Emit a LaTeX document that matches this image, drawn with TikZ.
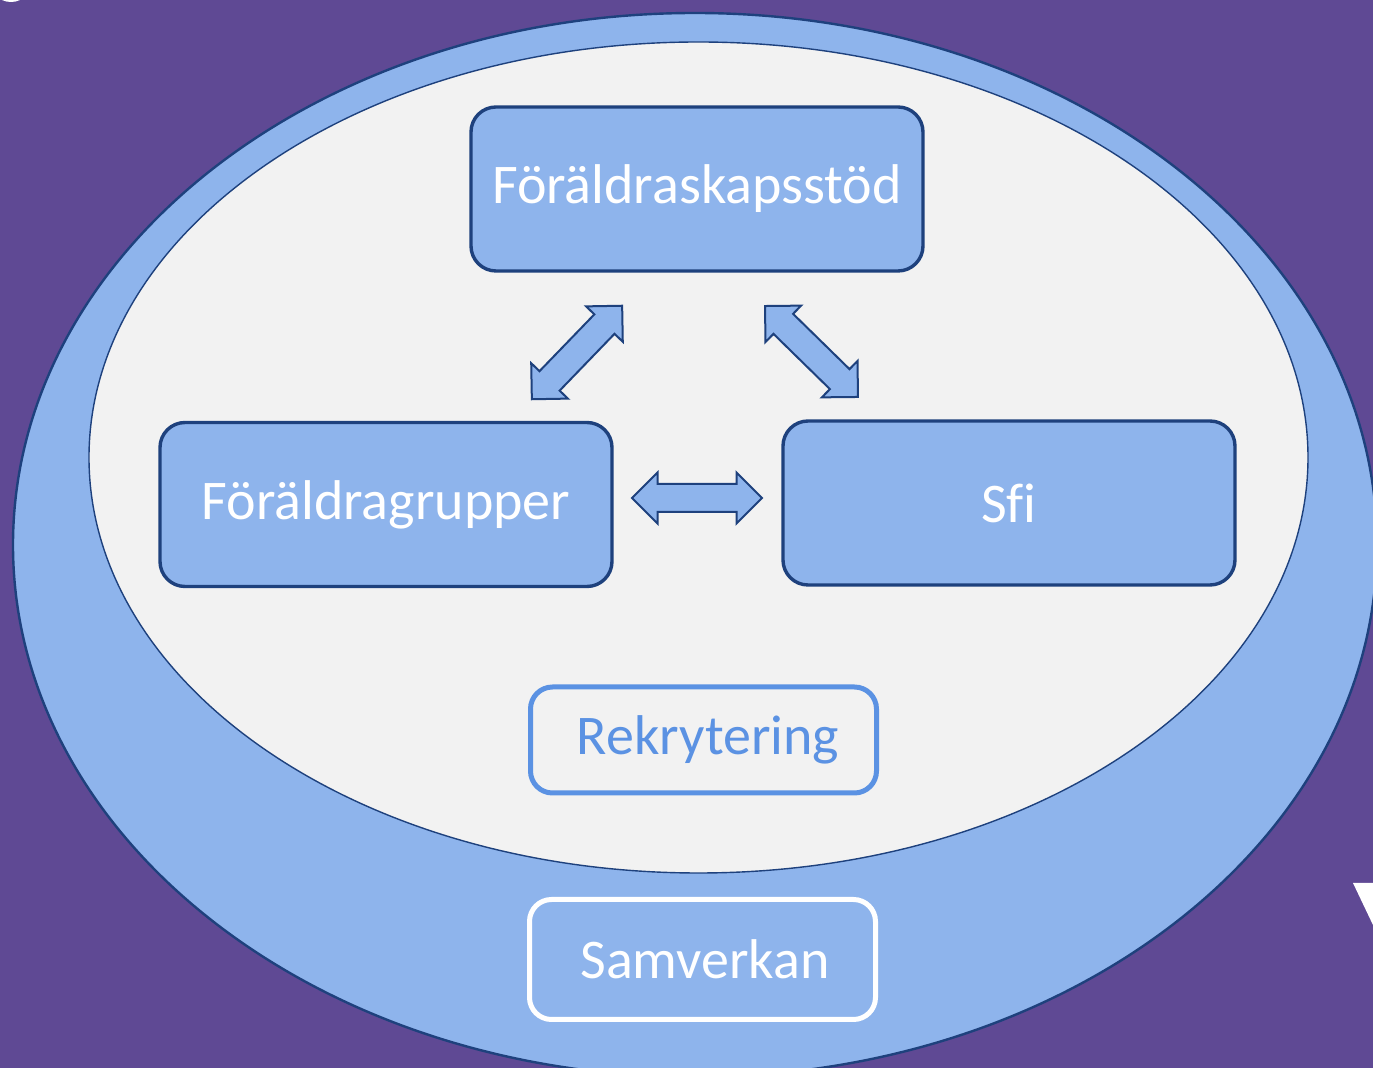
\documentclass[tikz,border=0pt]{standalone}
\usepackage{fontspec}
\setmainfont{Carlito}[Ligatures=NoCommon]
\usetikzlibrary{shapes.arrows}
\definecolor{bgpurple}{RGB}{95,73,148}
\definecolor{ringblue}{RGB}{142,180,236}
\definecolor{innergray}{RGB}{242,242,242}
\definecolor{edgeblue}{RGB}{30,65,125}
\definecolor{rekblue}{RGB}{91,146,227}
\tikzset{
  boxtext/.style={font=\fontsize{28}{34}\selectfont, text=white},
  mainbox/.style={boxtext, rectangle, rounded corners=12.5pt, draw=edgeblue,
    line width=1.7pt, fill=ringblue, minimum width=226pt, minimum height=82pt},
  dblpil/.style={double arrow, draw=edgeblue, line width=1pt, fill=ringblue,
    inner xsep=0pt, inner ysep=6.5pt, minimum width=24.5pt, minimum height=65pt,
    double arrow head extend=5.75pt}
}

\begin{document}
\begin{tikzpicture}[x=0.5pt,y=-0.5pt]
\useasboundingbox (0,0) rectangle (1373,1068);
\clip (0,0) rectangle (1373,1068);
\fill[bgpurple] (0,0) rectangle (1373,1068);
\fill[white] (11,-4) ellipse [x radius=12, y radius=6];
\fill[white] (1353,883)--(1373,883)--(1373,925)--cycle;
% ellipses
\filldraw[fill=ringblue, draw=edgeblue, line width=1.2pt] (695,545) ellipse [x radius=682, y radius=532];
\filldraw[fill=innergray, draw=edgeblue, line width=0.7pt] (698.5,457.5) ellipse [x radius=609.5, y radius=415.5];
% boxes
\node[mainbox] (stod) at (697,189) {Föräldraskapsstöd};
\node[mainbox] (grupper) at (386,504.5) {Föräldragrupper};
\node[mainbox] (sfi) at (1009,503) {Sfi};
\node[boxtext, text=rekblue, rectangle, rounded corners=11pt, draw=rekblue, line width=2.5pt,
  fill=innergray, minimum width=173pt, minimum height=53pt] (rekryt) at (703.5,740) {\hspace*{4.5pt}Rekrytering};
\node[boxtext, rectangle, rounded corners=11pt, draw=white, line width=2.5pt,
  fill=ringblue, minimum width=173pt, minimum height=60pt] (samverkan) at (702.5,959.5) {\hspace*{2.5pt}Samverkan};
% arrows
\node[dblpil] (pilGS) at (697,498) {};
\node[dblpil, rotate=46] (pilGK) at (577,352.5) {};
\node[dblpil, rotate=-44.4] (pilKS) at (811.5,351.5) {};
\end{tikzpicture}
\end{document}
